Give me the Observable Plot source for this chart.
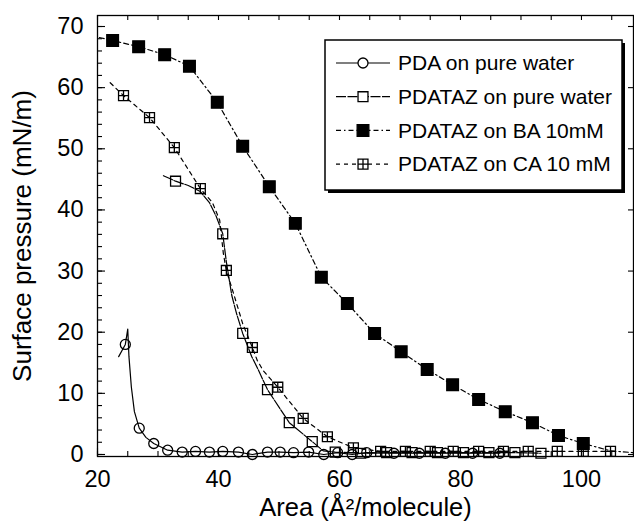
<!DOCTYPE html>
<html><head><meta charset="utf-8">
<script src="https://cdn.jsdelivr.net/npm/d3@7"></script>
<script src="https://cdn.jsdelivr.net/npm/@observablehq/plot@0.6"></script>
<style>body{margin:0;background:#fff} #chart{width:634px;height:527px}</style>
</head><body><div id="chart"></div>
<script>
// ---- data ----
const seriesNames = ["PDA on pure water","PDATAZ on pure water","PDATAZ on BA 10mM","PDATAZ on CA 10 mM"];

const pdaArea     = [23.5,24.6,25.0,25.2,25.6,26.1,26.9,28.0,29.3,31.6,34.0,36.2,38.5,40.7,43.3,45.6,48.1,50.2,52.4,54.9,57.4,59.7,62.1,64.5,69.0,73.2,77.5,82.0,86.5];
const pdaPressure = [16.0,18.0,20.5,16.0,11.0,7.0,4.3,2.8,1.8,0.7,0.4,0.5,0.4,0.5,0.4,0.0,0.4,0.4,0.3,0.4,0.0,0.3,0.0,0.3,0.2,0.2,0.2,0.2,0.2];
const pdaMarked   = [0,1,0,0,0,0,1,0,1,1,1,1,1,1,1,1,1,1,1,1,1,1,1,1,1,1,1,1,1];

const waterArea     = [30.9,32.9,35.0,37.0,38.5,39.6,40.7,41.3,42.2,43.0,44.0,45.5,46.5,48.1,51.7,55.5,57.3,59.3,63.5,67.8,72.0,76.2,80.5,84.7,89.0,93.3];
const waterPressure = [45.6,44.7,44.0,43.0,41.2,39.0,36.1,31.5,26.0,23.0,19.8,16.0,14.0,10.6,5.2,2.1,0.6,0.4,0.2,0.3,0.3,0.3,0.3,0.3,0.3,0.2];
const waterMarked   = [0,1,0,0,0,0,1,0,0,0,1,0,0,1,1,1,0,1,1,1,1,1,1,1,1,1];

const baArea     = [20.3,22.5,26.8,31.1,35.2,39.8,44.0,48.4,52.7,57.0,61.3,65.8,70.2,74.5,78.7,83.0,87.4,91.9,96.2,100.3,104.8,108.6];
const baPressure = [68.2,67.7,66.7,65.4,63.5,57.6,50.4,43.8,37.8,29.0,24.7,19.8,16.8,13.9,11.4,9.0,7.0,5.2,3.1,1.8,0.6,0.3];
const baMarked   = [0,1,1,1,1,1,1,1,1,1,1,1,1,1,1,1,1,1,1,1,0,0];

const caArea     = [22.1,24.3,28.6,32.7,37.0,39.0,40.2,40.8,41.3,42.5,44.0,45.6,46.4,47.4,49.8,54.0,58.0,62.3,66.8,70.9,75.0,78.8,83.0,87.1,91.2,96.0,100.3,104.8];
const caPressure = [60.8,58.7,55.1,50.2,43.5,41.2,38.3,32.9,30.1,26.3,21.4,17.5,15.4,13.7,11.0,5.9,2.9,1.1,0.5,0.5,0.5,0.5,0.5,0.5,0.5,0.5,0.5,0.5];
const caMarked   = [0,1,1,1,1,0,0,0,1,0,0,1,0,0,1,1,1,1,1,1,1,1,1,1,1,1,1,1];

const xTickValues = [20,40,60,80,100];
const yTickValues = [0,10,20,30,40,50,60,70];
const xTitle = "Area (Å²/molecule)";
const yTitle = "Surface pressure (mN/m)";

// ---- build table ----
const raw = [
  [pdaArea, pdaPressure, pdaMarked],
  [waterArea, waterPressure, waterMarked],
  [baArea, baPressure, baMarked],
  [caArea, caPressure, caMarked]
];
const rows = [];
raw.forEach(([a,p,m],i)=>a.forEach((v,j)=>rows.push({series:seriesNames[i], area:v, pressure:p[j], marked:m[j]===1})));

// ---- styles ----
const W=634, H=527, mL=97, mR=1, mT=15, mB=71;
const pw = W-mL-mR, ph = H-mT-mB;
const font = "'Liberation Sans', Arial, Helvetica, sans-serif";

const hatchSquare = {draw(ctx,size){const w=Math.sqrt(size)/2;
  ctx.moveTo(-w,-w);ctx.lineTo(w,-w);ctx.lineTo(w,w);ctx.lineTo(-w,w);ctx.closePath();
  ctx.moveTo(0,-w);ctx.lineTo(0,w);ctx.moveTo(-w,0);ctx.lineTo(w,0);}};

const styles = [
  {dash:null,         symbol:"circle", r:5.0, fill:"none"},
  {dash:"10,1.5",     symbol:"square", r:5.6, fill:"none"},
  {dash:"5,3,1.5,3",  symbol:"square", r:6.6, fill:"black"},
  {dash:"4,4",        symbol:hatchSquare, r:5.6, fill:"none"}
];

const xMinor = d3.range(20, 109, 5);
const yMinor = d3.range(0, 72, 2);

const marks = [
  Plot.frame({stroke:"black", strokeWidth:1.3}),
  Plot.ruleX(xMinor, {insetTop: ph-5, stroke:"black", strokeWidth:1.1}),
  Plot.ruleX(xTickValues, {insetTop: ph-8, stroke:"black", strokeWidth:1.1}),
  Plot.ruleX(xMinor, {insetBottom: ph-5, stroke:"black", strokeWidth:1.1}),
  Plot.ruleY(yMinor, {insetRight: pw-5, stroke:"black", strokeWidth:1.1}),
  Plot.ruleY(yTickValues, {insetRight: pw-8, stroke:"black", strokeWidth:1.1}),
  Plot.ruleY(yTickValues, {insetLeft: pw-5, stroke:"black", strokeWidth:1.1}),
  Plot.axisX(xTickValues, {tickSize:0, tickPadding:14, fontSize:23.5, label:null}),
  Plot.axisY(yTickValues, {tickSize:0, tickPadding:14, fontSize:23.5, label:null}),
  Plot.text([xTitle], {frameAnchor:"bottom", dy:59, fontSize:25.5, textAnchor:"middle"}),
  Plot.text([yTitle], {frameAnchor:"left", rotate:-90, dx:-75, fontSize:26, textAnchor:"middle"})
];
seriesNames.forEach((name,i)=>{
  const s = styles[i];
  const d = rows.filter(r=>r.series===name);
  marks.push(Plot.line(d, {x:"area", y:"pressure", stroke:"black", strokeWidth:1.2, strokeDasharray:s.dash, curve:"linear"}));
  marks.push(Plot.dot(d.filter(r=>r.marked), {x:"area", y:"pressure", symbol:s.symbol, r:s.r, fill:s.fill, stroke:"black", strokeWidth:1.3}));
});

const chart = Plot.plot({
  width: W, height: H,
  marginLeft: mL, marginRight: mR, marginTop: mT, marginBottom: mB,
  style: {fontFamily: font, fontSize: "23px", color: "black", background: "white"},
  x: {domain:[20, 108.6], axis:null},
  y: {domain:[-0.33, 71.8], axis:null},
  marks
});
document.getElementById("chart").appendChild(chart);

// ---- legend ----
const svg = d3.select(chart);
const lg = svg.append("g").attr("font-family", font).attr("text-anchor","start");
const bx=325, by=40, bw=297, bh=150;
lg.append("rect").attr("x",bx+3).attr("y",by+3).attr("width",bw).attr("height",bh).attr("fill","black");
lg.append("rect").attr("x",bx).attr("y",by).attr("width",bw).attr("height",bh).attr("fill","white").attr("stroke","black").attr("stroke-width",1.5);
seriesNames.forEach((name,i)=>{
  const s = styles[i];
  const y = 63 + i*33.7;
  const ln = lg.append("line").attr("x1",336).attr("x2",390).attr("y1",y).attr("y2",y)
    .attr("stroke","black").attr("stroke-width",1.2);
  if (s.dash) ln.attr("stroke-dasharray", s.dash);
  const symType = s.symbol==="circle" ? d3.symbolCircle : s.symbol==="square" ? d3.symbolSquare : s.symbol;
  lg.append("path").attr("d", d3.symbol(symType, Math.PI*s.r*s.r)()).attr("transform",`translate(363,${y})`)
    .attr("fill", s.fill==="none" ? "white" : s.fill).attr("stroke","black").attr("stroke-width",1.3);
  lg.append("text").attr("x",398).attr("y",y).attr("dy","0.35em").attr("font-size",21).attr("fill","black")
    .attr("text-anchor","start").text(name);
});
</script>
</body></html>
